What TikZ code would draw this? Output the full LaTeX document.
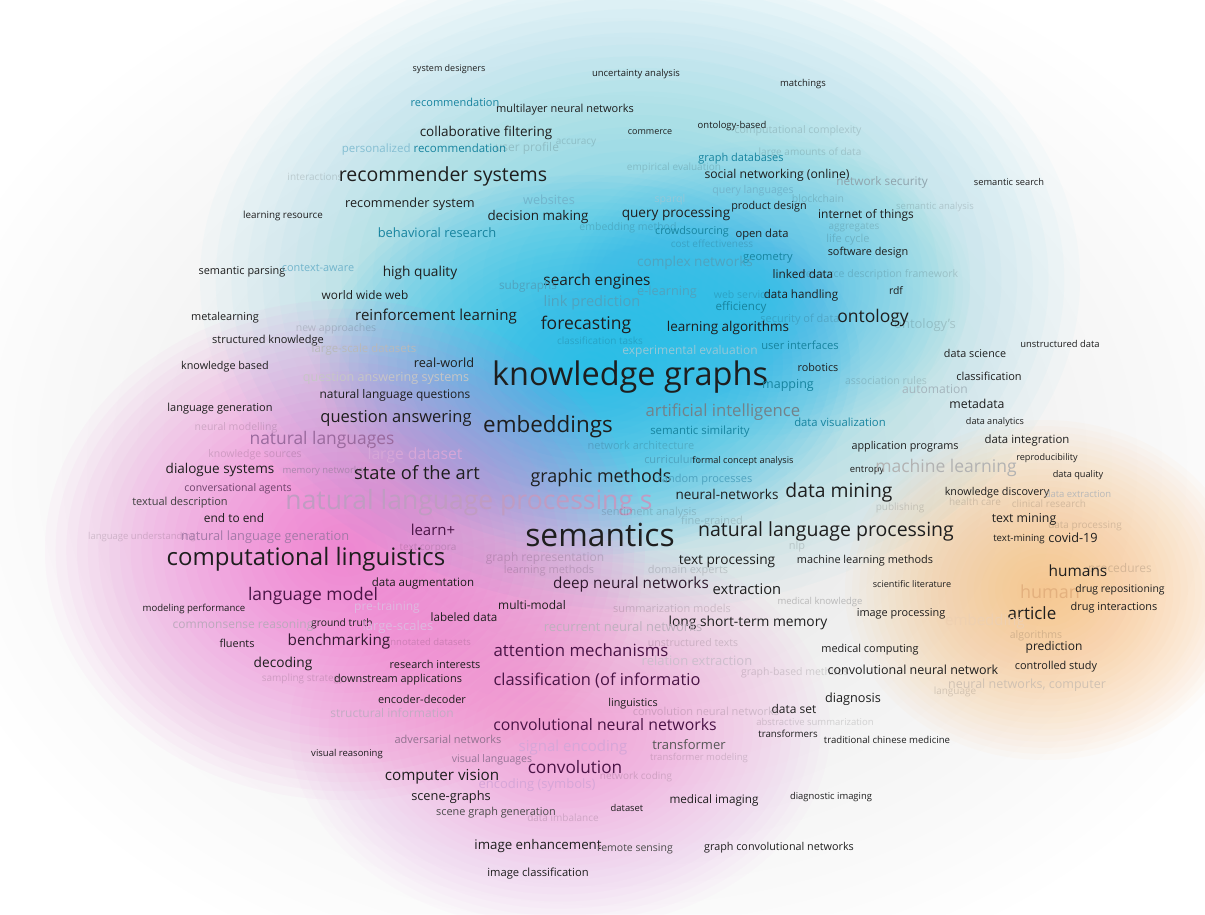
\documentclass[tikz,border=0pt]{standalone}
\usepackage{fontspec}
\setmainfont{Open Sans}

\definecolor{ink}{HTML}{1E1E1E}
\definecolor{plumc}{HTML}{4A1446}
\definecolor{tealc}{HTML}{17849F}
\definecolor{tealf}{HTML}{4FA3BF}
\definecolor{greyf}{HTML}{8FA3AC}
\definecolor{pinkf}{HTML}{D6A6D8}
\definecolor{lilac}{HTML}{9A6A9E}
\definecolor{orangef}{HTML}{E3B07E}
\definecolor{hazec}{HTML}{E2E2E8}
\definecolor{cyanc}{HTML}{10BEE6}
\definecolor{pinkc}{HTML}{F062D2}
\definecolor{orangec}{HTML}{FFB865}

% stacked ellipses give a soft density spot
\newcommand{\densityblob}[5]{%
  \foreach \k in {1,...,28} {\fill[#1, opacity=#2] #3 ellipse [x radius={\k/28*#4}, y radius={\k/28*#5}];}}

\begin{document}
\begin{tikzpicture}[x=1pt, y=-1pt,
  kw/.style={inner sep=0pt, text=ink, font=\fontsize{#1}{#1}\selectfont},
  tealword/.style={text=tealc},
  fadeteal/.style={text=tealf},
  plumword/.style={text=plumc},
  ghost/.style={text=black, text opacity=0.14}]
\fill[white] (0,0) rectangle (1205,914);
\useasboundingbox (0,0) rectangle (1205,914);

% haze
\densityblob{hazec}{0.03}{(612,462)}{700}{540}

% cyan cluster
\densityblob{cyanc}{0.022}{(640,280)}{440}{330}
\densityblob{cyanc}{0.045}{(590,365)}{270}{190}
\densityblob{cyanc}{0.02}{(770,290)}{200}{150}

% pink cluster
\densityblob{pinkc}{0.04}{(345,550)}{300}{250}
\densityblob{pinkc}{0.022}{(560,730)}{270}{200}

% orange cluster
\densityblob{orangec}{0.035}{(1045,590)}{200}{170}

% top, recommender side
\node[kw=9] (sysdes) at (449,69) {system designers};
\node[kw=9.5] (uncert) at (636,74) {uncertainty analysis};
\node[kw=9.5] (match) at (803,84) {matchings};
\node[kw=11, tealword] (recom) at (455,102) {recommendation};
\node[kw=11] (mlnn) at (565,110) {multilayer neural networks};
\node[kw=9.5] (ontbased) at (732,126) {ontology-based};
\node[kw=9] (commerce) at (650,132) {commerce};
\node[kw=13.5] (collab) at (486,133) {collaborative filtering};
\node[kw=10.5, ghost] (compcx) at (798,131) {computational complexity};
\node[kw=12, ghost] (userprof) at (527,148) {user profile};
\node[kw=10, ghost] (accur) at (576,143) {accuracy};
\node[kw=11.5, tealword] (persrec) at (424,150) {\color{tealf!70}personalized \color{tealc}recommendation};
\node[kw=10, ghost] (largeam) at (810,153) {large amounts of data};
\node[kw=11, tealword] (graphdb) at (741,159) {graph databases};
\node[kw=10, ghost] (empeval) at (674,168) {empirical evaluation};
\node[kw=12.2] (socnet) at (777,175) {social networking (online)};
\node[kw=10, ghost] (interact) at (315,177) {interactions};
\node[kw=19.5] (recsys) at (443,176) {recommender systems};
\node[kw=11.8, text=greyf] (netsec) at (882,182) {network security};
\node[kw=9.3] (semsearch) at (1009,182) {semantic search};
\node[kw=10.6, text=tealf!80] (querylang) at (753,191) {query languages};
\node[kw=12.7, text=tealf!80] (websites) at (549,200) {websites};
\node[kw=10.6, text=tealf!60] (sparql) at (670,200) {sparql};
\node[kw=10.5, ghost] (blockchain) at (818,199) {blockchain};
\node[kw=12.7] (recsys1) at (410,204) {recommender system};
\node[kw=10.8] (proddes) at (769,207) {product design};
\node[kw=9.5, ghost] (semanal) at (935,207) {semantic analysis};
\node[kw=9.8] (learnres) at (283,216) {learning resource};
\node[kw=13.4] (decmak) at (538,217) {decision making};
\node[kw=13.6] (queryproc) at (676,214) {query processing};
\node[kw=11.9] (iot) at (866,215) {internet of things};
\node[kw=10, ghost] (aggreg) at (854,227) {aggregates};
\node[kw=10.5, ghost] (embmeth) at (628,228) {embedding method};
\node[kw=10.8, tealword] (crowd) at (692,232) {crowdsourcing};
\node[kw=11.2] (opendata) at (762,235) {open data};
\node[kw=12.9, tealword] (behav) at (437,233) {behavioral research};
\node[kw=10, ghost] (costeff) at (712,244) {cost effectiveness};
\node[kw=11, ghost] (lifecyc) at (848,240) {life cycle};
\node[kw=10.9] (softdes) at (868,253) {software design};
\node[kw=11.1, tealword] (geometry) at (768,258) {geometry};
\node[kw=13.6, fadeteal] (complexnet) at (695,263) {complex networks};
\node[kw=11.8] (linkeddata) at (803,274) {linked data};
\node[kw=10.5, ghost] (rdfw) at (880,275) {resource description framework};

% knowledge graphs core
\node[kw=10.9] (semparse) at (242,272) {semantic parsing};
\node[kw=10.9, text=tealf!80] (ctxaware) at (318,268) {context-aware};
\node[kw=13.7] (highq) at (420,273) {high quality};
\node[kw=15.4] (searcheng) at (597,281) {search engines};
\node[kw=11.8, fadeteal] (subgraphs) at (528,286) {subgraphs};
\node[kw=12.7, fadeteal] (elearn) at (667,292) {e-learning};
\node[kw=10.5, ghost] (websvc) at (745,295) {web services};
\node[kw=11.6] (datahand) at (801,295) {data handling};
\node[kw=10.4] (rdf) at (896,291) {rdf};
\node[kw=11.8] (www) at (365,295) {world wide web};
\node[kw=14.6, fadeteal] (linkpred) at (592,303) {link prediction};
\node[kw=11.6, tealword] (effic) at (741,307) {efficiency};
\node[kw=10.9] (metalearn) at (225,318) {metalearning};
\node[kw=15.1] (reinf) at (436,317) {reinforcement learning};
\node[kw=17.5] (ontology) at (873,318) {ontology};
\node[kw=11, ghost] (secdata) at (800,320) {security of data};
\node[kw=13, ghost] (ontologys) at (925,325) {ontology's};
\node[kw=17.5] (forecast) at (586,325) {forecasting};
\node[kw=13.5] (learnalg) at (728,328) {learning algorithms};
\node[kw=10.5, ghost] (newappr) at (336,329) {new approaches};
\node[kw=11] (structk) at (268,341) {structured knowledge};
\node[kw=10, ghost] (classtask) at (600,341) {classification tasks};
\node[kw=11.2, tealword] (userint) at (800,345) {user interfaces};
\node[kw=9.4] (unstruct) at (1060,344) {unstructured data};
\node[kw=11.4, text=gray!55] (lsdatasets) at (364,350) {large-scale datasets};
\node[kw=12, text=tealf!60] (expeval) at (690,351) {experimental evaluation};
\node[kw=10.8] (datasci) at (975,353) {data science};
\node[kw=10.8] (kbased) at (225,367) {knowledge based};
\node[kw=12.7] (realworld) at (444,363) {real-world};
\node[kw=10.8] (robotics) at (818,367) {robotics};
\node[kw=32.5] (kg) at (630,377) {knowledge graphs};
\node[kw=12.6, text=gray!45] (qasys) at (386,378) {question answering systems};
\node[kw=11] (classif) at (989,376) {classification};
\node[kw=10.5, ghost] (assoc) at (886,381) {association rules};
\node[kw=12.5, tealword] (mapping) at (788,385) {mapping};
\node[kw=12.1, text=greyf!80] (automation) at (935,389) {automation};
\node[kw=11.9] (nlq) at (395,395) {natural language questions};
\node[kw=12.3] (metadata) at (977,404) {metadata};
\node[kw=11] (langgen) at (220,409) {language generation};
\node[kw=16.7, text=greyf!80!black] (ai) at (723,412) {artificial intelligence};
\node[kw=16.5] (qa) at (396,418) {question answering};
\node[kw=11.3, tealword] (dataviz) at (840,422) {data visualization};
\node[kw=9.1] (dataanal) at (995,422) {data analytics};
\node[kw=22.4] (embeddings) at (548,427) {embeddings};
\node[kw=10.5, ghost] (neuralmod) at (236,428) {neural modelling};
\node[kw=11.4, tealword] (semsim) at (700,432) {semantic similarity};
\node[kw=17.4, text=lilac] (natlangs) at (322,440) {natural languages};
\node[kw=11.4] (dataint) at (1027,441) {data integration};
\node[kw=11, ghost] (netarch) at (641,445) {network architecture};
\node[kw=10.8] (appprog) at (905,447) {application programs};
\node[kw=10.5, ghost] (ksources) at (255,455) {knowledge sources};
\node[kw=15.7, text=pinkf] (largeds) at (415,455) {large dataset};
\node[kw=9.1] (reprod) at (1047,458) {reproducibility};
\node[kw=11, fadeteal] (curric) at (672,459) {curriculum};
\node[kw=9.2] (fca) at (743,461) {formal concept analysis};

% middle band
\node[kw=13.5] (dialogue) at (220,470) {dialogue systems};
\node[kw=9.5, text=pinkf!80!black] (memnet) at (323,471) {memory networks};
\node[kw=18.3] (sota) at (417,473) {state of the art};
\node[kw=9.5] (entropy) at (867,470) {entropy};
\node[kw=17.5, text=gray!60] (ml) at (946,468) {machine learning};
\node[kw=9.2] (dataq) at (1078,475) {data quality};
\node[kw=17.9] (graphic) at (601,478) {graphic methods};
\node[kw=11, fadeteal] (randproc) at (705,480) {random processes};
\node[kw=10.5, text=plumc!80] (convag) at (238,489) {conversational agents};
\node[kw=13.5] (neuralnets) at (727,494) {neural-networks};
\node[kw=19.3] (datamining) at (839,492) {data mining};
\node[kw=10.8] (kdisc) at (997,493) {knowledge discovery};
\node[kw=9.5, text=gray!55] (dataext) at (1078,494) {data extraction};
\node[kw=11, text=ink!85] (textdesc) at (180,503) {textual description};
\node[kw=26.5, text=pinkf!75!gray] (nlps) at (469,503) {natural language processing s};
\node[kw=10, ghost] (health) at (975,502) {health care};
\node[kw=10, ghost] (clinical) at (1049,504) {clinical research};
\node[kw=10, ghost] (publishing) at (900,508) {publishing};
\node[kw=11, ghost] (sentiment) at (649,513) {sentiment analysis};
\node[kw=11.9] (endtoend) at (234,518) {end to end};
\node[kw=12.3] (textmining) at (1024,519) {text mining};
\node[kw=11, ghost] (finegr) at (712,522) {fine-grained};
\node[kw=10, ghost] (dataproc) at (1085,526) {data processing};
\node[kw=15, plumword] (learnplus) at (433,530) {learn+};
\node[kw=31.8] (semantics) at (600,535) {semantics};
\node[kw=19.5] (nlp) at (826,531) {natural language processing};
\node[kw=9.5, ghost] (langund) at (142,537) {language understanding};
\node[kw=12.8, text=lilac!90] (nlg) at (265,537) {natural language generation};
\node[kw=9.7] (textmin2) at (1019,539) {text-mining};
\node[kw=12.7] (covid) at (1073,538) {covid-19};
\node[kw=11, ghost] (nlpshort) at (797,547) {nlp};
\node[kw=10, ghost] (corpora) at (428,548) {text corpora};
\node[kw=24] (complin) at (306,559) {computational linguistics};
\node[kw=12, ghost] (graphrep) at (545,558) {graph representation};
\node[kw=13.7] (textproc) at (727,561) {text processing};
\node[kw=10.9] (mlmethods) at (865,561) {machine learning methods};
\node[kw=12, ghost] (procedures) at (1120,569) {procedures};
\node[kw=15.4] (humans) at (1078,571) {humans};
\node[kw=11, ghost] (learnmeth) at (549,571) {learning methods};
\node[kw=11, ghost] (domainexp) at (688,571) {domain experts};

% lower half
\node[kw=11.5] (dataaug) at (423,584) {data augmentation};
\node[kw=15.3, text=plumc!40!ink] (dnn) at (631,585) {deep neural networks};
\node[kw=9.1] (scilit) at (912,584) {scientific literature};
\node[kw=14.7] (extraction) at (747,589) {extraction};
\node[kw=18, text=orangef] (human) at (1050,592) {human};
\node[kw=10.4] (drugrep) at (1120,590) {drug repositioning};
\node[kw=17.4, plumword] (langmodel) at (313,596) {language model};
\node[kw=9.5, text=gray!55] (medknow) at (820,602) {medical knowledge};
\node[kw=11.9] (multimodal) at (532,605) {multi-modal};
\node[kw=11, ghost] (summmod) at (672,608) {summarization models};
\node[kw=12, text=pinkf!80] (pretrain) at (387,608) {pre-training};
\node[kw=9.6] (modperf) at (194,609) {modeling performance};
\node[kw=10.9] (druginter) at (1114,608) {drug interactions};
\node[kw=17] (article) at (1032,613) {article};
\node[kw=10.9] (imgproc) at (901,614) {image processing};
\node[kw=11.6] (labeled) at (464,617) {labeled data};
\node[kw=15, text=orangef!60] (embedding) at (985,622) {embedding};
\node[kw=13.8] (lstm) at (748,623) {long short-term memory};
\node[kw=10.3] (groundtruth) at (342,624) {ground truth};
\node[kw=12, text=pinkf!50!gray!80] (commonsense) at (243,626) {commonsense reasoning};
\node[kw=13, text=pinkf!80] (largescales) at (398,627) {large-scales};
\node[kw=13, text=pinkf!40!gray!70] (rnn) at (623,627) {recurrent neural networks};
\node[kw=10.5, ghost] (algorithms) at (1036,636) {algorithms};
\node[kw=10.9] (fluents) at (237,643) {fluents};
\node[kw=15.3, text=plumc!50!ink] (benchmark) at (339,642) {benchmarking};
\node[kw=9.5, ghost] (annotated) at (428,642) {annotated datasets};
\node[kw=10.5, ghost] (unstexts) at (693,643) {unstructured texts};
\node[kw=10.9] (medcomp) at (870,650) {medical computing};
\node[kw=12] (prediction) at (1054,647) {prediction};
\node[kw=16.8, plumword] (attention) at (581,650) {attention mechanisms};
\node[kw=13, text=pinkf!50!gray!60] (relext) at (697,661) {relation extraction};
\node[kw=13.7] (decoding) at (283,664) {decoding};
\node[kw=10.9] (research) at (435,664) {research interests};
\node[kw=12.5] (cnn1) at (913,670) {convolutional neural network};
\node[kw=10.9] (controlled) at (1056,667) {controlled study};
\node[kw=10.5, ghost] (graphbased) at (795,673) {graph-based methods};
\node[kw=10, ghost] (sampling) at (303,679) {sampling strategy};
\node[kw=10.9] (downstream) at (398,680) {downstream applications};
\node[kw=16.4, plumword] (classinfo) at (597,681) {classification (of informatio};
\node[kw=12.5, text=orangef!50!gray!60] (nncomp) at (1027,685) {neural networks, computer};
\node[kw=10, ghost] (language) at (955,692) {language};
\node[kw=11] (encdec) at (422,699) {encoder-decoder};
\node[kw=10.8] (linguistics) at (633,704) {linguistics};
\node[kw=12.7] (diagnosis) at (853,699) {diagnosis};
\node[kw=12] (dataset1) at (794,709) {data set};
\node[kw=11, ghost] (convnn) at (706,711) {convolution neural networks};
\node[kw=12, text=pinkf!60!gray!80] (structinfo) at (392,713) {structural information};
\node[kw=9.5, ghost] (abssumm) at (815,722) {abstractive summarization};
\node[kw=15.8, plumword] (cnns) at (605,725) {convolutional neural networks};
\node[kw=9.7] (transformers) at (788,734) {transformers};
\node[kw=11, text=plumc!60] (adversarial) at (448,739) {adversarial networks};
\node[kw=9.6] (tcm) at (887,740) {traditional chinese medicine};
\node[kw=15, text=pinkf] (signalenc) at (573,748) {signal encoding};
\node[kw=13, text=ink!75] (transformer) at (689,745) {transformer};
\node[kw=9.5] (visreason) at (347,754) {visual reasoning};
\node[kw=10.5, text=pinkf!70!black] (vislang) at (492,760) {visual languages};
\node[kw=9.5, ghost] (transmod) at (699,758) {transformer modeling};
\node[kw=17.2, plumword] (convolution) at (575,767) {convolution};
\node[kw=15.2] (compvision) at (442,777) {computer vision};
\node[kw=10, ghost] (netcoding) at (636,777) {network coding};
\node[kw=13, text=pinkf] (encsym) at (537,785) {encoding (symbols)};
\node[kw=12.8] (scenegraphs) at (451,797) {scene-graphs};
\node[kw=11.7] (medimg) at (714,800) {medical imaging};
\node[kw=9.4] (diagimg) at (831,797) {diagnostic imaging};
\node[kw=9.4] (dataset2) at (627,808) {dataset};
\node[kw=10.9, text=ink!80] (sgg) at (496,813) {scene graph generation};
\node[kw=10, ghost] (imbalance) at (563,818) {data imbalance};
\node[kw=13.3] (imgenh) at (538,846) {image enhancement};
\node[kw=10.5, text=ink!80] (remote) at (635,849) {remote sensing};
\node[kw=10.8] (gcn) at (779,848) {graph convolutional networks};
\node[kw=11.2] (imgclass) at (538,874) {image classification};
\end{tikzpicture}
\end{document}
